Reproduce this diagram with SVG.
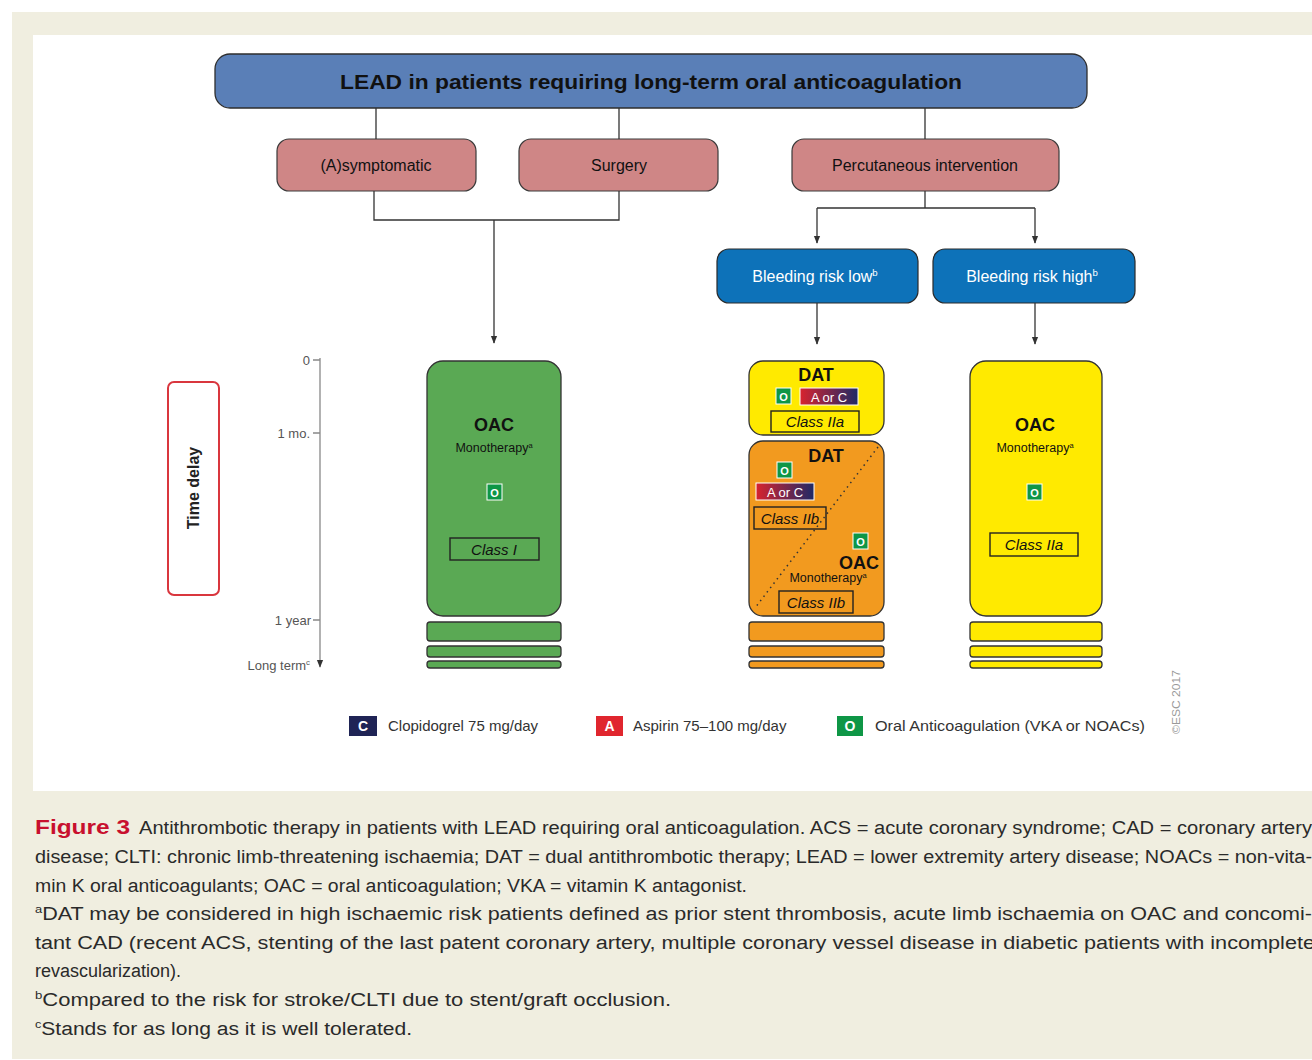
<svg xmlns="http://www.w3.org/2000/svg" width="1312" height="1060" viewBox="0 0 1312 1060">
<defs>
<style>
text{font-family:"Liberation Sans","Open Sans",Arial,sans-serif;}
.conn{fill:none;stroke:#333;stroke-width:1.3}
.title{fill:#5a7fb7;stroke:#2e2e2e;stroke-width:1.3}
.pink{fill:#cf8686;stroke:#3a3a3a;stroke-width:1.2}
.blue{fill:#0d72b9;stroke:#2a2a2a;stroke-width:1.2}
.green{fill:#5aa954}
.orange{fill:#f29a1f}
.yellow{fill:#ffea00}
.box{stroke:#333;stroke-width:1.3}
.cls{fill:none;stroke:#222;stroke-width:1.4}
.clst{font-size:15px;font-style:italic;fill:#111;text-anchor:middle}
.h{font-weight:bold;font-size:18px;fill:#111;text-anchor:middle}
.mono{font-size:12.5px;fill:#111;text-anchor:middle}
.tl{font-size:13px;fill:#555;text-anchor:end}
.leg{font-size:15px;fill:#333}
.cap{font-size:18px;fill:#2a2a2a}
.sup{font-size:60%}
</style>
<marker id="arr" viewBox="0 0 10 10" refX="9" refY="5" markerWidth="6" markerHeight="6" orient="auto"><path d="M0,1 L10,5 L0,9 z" fill="#333"/></marker>
<linearGradient id="ac" x1="0" x2="1"><stop offset="0" stop-color="#d8232e"/><stop offset="1" stop-color="#1f2a66"/></linearGradient>
<g id="icoO"><rect x="0" y="0" width="15" height="16" fill="#0e9646" stroke="#fff" stroke-width="1"/><text x="7.5" y="12.5" font-size="11" font-weight="bold" fill="#fff" text-anchor="middle">O</text></g>
<g id="icoAC"><rect width="58" height="17" fill="url(#ac)" stroke="#fff" stroke-width="1"/><text x="29" y="13.5" font-size="13" fill="#fff" text-anchor="middle">A or C</text></g>
</defs>

<rect width="1312" height="1060" fill="#fff"/>
<rect x="12" y="12" width="1300" height="1047" fill="#f0eee0"/>
<rect x="33" y="35" width="1279" height="756" fill="#fff"/>

<g id="title">
<rect class="title" x="215" y="54" width="872" height="54" rx="15"/>
<text x="651" y="89" font-size="20" font-weight="bold" fill="#111" text-anchor="middle" textLength="622" lengthAdjust="spacingAndGlyphs">LEAD in patients requiring long-term oral anticoagulation</text>
</g>

<g id="asymptomatic">
<rect class="pink" x="277" y="139" width="199" height="52" rx="12"/>
<text x="376" y="171" font-size="16" fill="#111" text-anchor="middle">(A)symptomatic</text>
</g>
<g id="surgery">
<rect class="pink" x="519" y="139" width="199" height="52" rx="12"/>
<text x="619" y="171" font-size="16" fill="#111" text-anchor="middle">Surgery</text>
</g>
<g id="percutaneous">
<rect class="pink" x="792" y="139" width="267" height="52" rx="12"/>
<text x="925" y="171" font-size="16" fill="#111" text-anchor="middle">Percutaneous intervention</text>
</g>

<g id="bleed-low">
<rect class="blue" x="717" y="249" width="201" height="54" rx="12"/>
<text x="815" y="282" font-size="16" fill="#fff" text-anchor="middle">Bleeding risk low<tspan class="sup" dy="-6">b</tspan></text>
</g>
<g id="bleed-high">
<rect class="blue" x="933" y="249" width="202" height="54" rx="12"/>
<text x="1032" y="282" font-size="16" fill="#fff" text-anchor="middle">Bleeding risk high<tspan class="sup" dy="-6">b</tspan></text>
</g>

<g id="connectors">
<path class="conn" d="M376,108 V139 M619,108 V139 M925,108 V139"/>
<path class="conn" d="M374,191 V220 H619 V191"/>
<path class="conn" d="M494,220 V343" marker-end="url(#arr)"/>
<path class="conn" d="M925,191 V208 M817,208 H1035"/>
<path class="conn" d="M817,208 V243" marker-end="url(#arr)"/>
<path class="conn" d="M1035,208 V243" marker-end="url(#arr)"/>
<path class="conn" d="M817,303 V344" marker-end="url(#arr)"/>
<path class="conn" d="M1035,303 V344" marker-end="url(#arr)"/>
</g>

<g id="timeline">
<path d="M320,358 V667" stroke="#888" stroke-width="1.3" fill="none" marker-end="url(#arr)"/>
<path d="M313,360 H320 M313,433 H320 M313,620 H320" stroke="#888" stroke-width="1.3"/>
<text class="tl" x="310" y="365">0</text>
<text class="tl" x="310" y="438">1 mo.</text>
<text class="tl" x="311" y="625">1 year</text>
<text class="tl" x="310" y="670">Long term<tspan class="sup" dy="-5">c</tspan></text>
</g>

<g id="time-delay">
<rect x="168" y="382" width="51" height="213" rx="6" fill="#fff" stroke="#d9363e" stroke-width="2"/>
<text transform="translate(199,488) rotate(-90)" font-size="16" font-weight="bold" fill="#222" text-anchor="middle">Time delay</text>
</g>

<g id="oac-green">
<rect class="green box" x="427" y="361" width="134" height="255" rx="16"/>
<text class="h" x="494" y="431">OAC</text>
<text class="mono" x="494" y="452">Monotherapy<tspan class="sup" dy="-4">a</tspan></text>
<use href="#icoO" x="487" y="484"/>
<rect class="cls" x="450" y="538" width="89" height="22"/>
<text class="clst" x="494" y="555">Class I</text>
<rect class="green box" x="427" y="622" width="134" height="19" rx="3"/>
<rect class="green box" x="427" y="646" width="134" height="11" rx="3"/>
<rect class="green box" x="427" y="661" width="134" height="7" rx="3"/>
</g>

<g id="dat-yellow">
<rect class="yellow box" x="749" y="361" width="135" height="74" rx="14"/>
<text class="h" x="816" y="381">DAT</text>
<use href="#icoO" x="776" y="388"/>
<use href="#icoAC" x="800" y="388"/>
<rect class="cls" x="771" y="411" width="88" height="21"/>
<text class="clst" x="815" y="427">Class IIa</text>
</g>

<g id="dat-orange">
<rect class="orange box" x="749" y="441" width="135" height="175" rx="14"/>
<path d="M878,447 L755,608" stroke="#333" stroke-width="1.5" stroke-dasharray="1.5 4" fill="none"/>
<text class="h" x="826" y="462">DAT</text>
<use href="#icoO" x="777" y="462"/>
<use href="#icoAC" x="756" y="483"/>
<rect class="cls" x="754" y="507" width="72" height="22"/>
<text class="clst" x="790" y="524">Class IIb</text>
<use href="#icoO" x="853" y="533"/>
<text class="h" x="859" y="569">OAC</text>
<text class="mono" x="828" y="582">Monotherapy<tspan class="sup" dy="-4">a</tspan></text>
<rect class="cls" x="779" y="591" width="74" height="22"/>
<text class="clst" x="816" y="608">Class IIb</text>
<rect class="orange box" x="749" y="622" width="135" height="19" rx="3"/>
<rect class="orange box" x="749" y="646" width="135" height="11" rx="3"/>
<rect class="orange box" x="749" y="661" width="135" height="7" rx="3"/>
</g>

<g id="oac-yellow">
<rect class="yellow box" x="970" y="361" width="132" height="255" rx="16"/>
<text class="h" x="1035" y="431">OAC</text>
<text class="mono" x="1035" y="452">Monotherapy<tspan class="sup" dy="-4">a</tspan></text>
<use href="#icoO" x="1027" y="484"/>
<rect class="cls" x="990" y="533" width="88" height="23"/>
<text class="clst" x="1034" y="550">Class IIa</text>
<rect class="yellow box" x="970" y="622" width="132" height="19" rx="3"/>
<rect class="yellow box" x="970" y="646" width="132" height="11" rx="3"/>
<rect class="yellow box" x="970" y="661" width="132" height="7" rx="3"/>
</g>

<g id="legend">
<rect x="349" y="716" width="28" height="20" fill="#1f2455"/>
<text x="363" y="731" font-size="14" font-weight="bold" fill="#fff" text-anchor="middle">C</text>
<text class="leg" x="388" y="731">Clopidogrel 75 mg/day</text>
<rect x="596" y="716" width="27" height="20" fill="#e0262e"/>
<text x="609.5" y="731" font-size="14" font-weight="bold" fill="#fff" text-anchor="middle">A</text>
<text class="leg" x="633" y="731">Aspirin 75–100 mg/day</text>
<rect x="837" y="716" width="26" height="20" fill="#0e9646"/>
<text x="850" y="731" font-size="14" font-weight="bold" fill="#fff" text-anchor="middle">O</text>
<text class="leg" x="875" y="731" textLength="270" lengthAdjust="spacingAndGlyphs">Oral Anticoagulation (VKA or NOACs)</text>
<text transform="translate(1180,702) rotate(-90)" font-size="11" fill="#999" text-anchor="middle" textLength="64" lengthAdjust="spacingAndGlyphs">©ESC 2017</text>
</g>

<g id="caption">
<text x="35" y="834" font-size="20" font-weight="bold" fill="#c8102e" textLength="95" lengthAdjust="spacingAndGlyphs">Figure 3</text>
<text class="cap" x="139" y="834" textLength="1173" lengthAdjust="spacingAndGlyphs">Antithrombotic therapy in patients with LEAD requiring oral anticoagulation. ACS = acute coronary syndrome; CAD = coronary artery</text>
<text class="cap" x="35" y="863" textLength="1277" lengthAdjust="spacingAndGlyphs">disease; CLTI: chronic limb-threatening ischaemia; DAT = dual antithrombotic therapy; LEAD = lower extremity artery disease; NOACs = non-vita-</text>
<text class="cap" x="35" y="892" textLength="712" lengthAdjust="spacingAndGlyphs">min K oral anticoagulants; OAC = oral anticoagulation; VKA = vitamin K antagonist.</text>
<text class="cap" x="35" y="920" textLength="1277" lengthAdjust="spacingAndGlyphs"><tspan class="sup" dy="-7">a</tspan><tspan dy="7">DAT may be considered in high ischaemic risk patients defined as prior stent thrombosis, acute limb ischaemia on OAC and concomi-</tspan></text>
<text class="cap" x="35" y="949" textLength="1280" lengthAdjust="spacingAndGlyphs">tant CAD (recent ACS, stenting of the last patent coronary artery, multiple coronary vessel disease in diabetic patients with incomplete</text>
<text class="cap" x="35" y="977">revascularization).</text>
<text class="cap" x="35" y="1006" textLength="636" lengthAdjust="spacingAndGlyphs"><tspan class="sup" dy="-7">b</tspan><tspan dy="7">Compared to the risk for stroke/CLTI due to stent/graft occlusion.</tspan></text>
<text class="cap" x="35" y="1035" textLength="377" lengthAdjust="spacingAndGlyphs"><tspan class="sup" dy="-7">c</tspan><tspan dy="7">Stands for as long as it is well tolerated.</tspan></text>
</g>
</svg>
